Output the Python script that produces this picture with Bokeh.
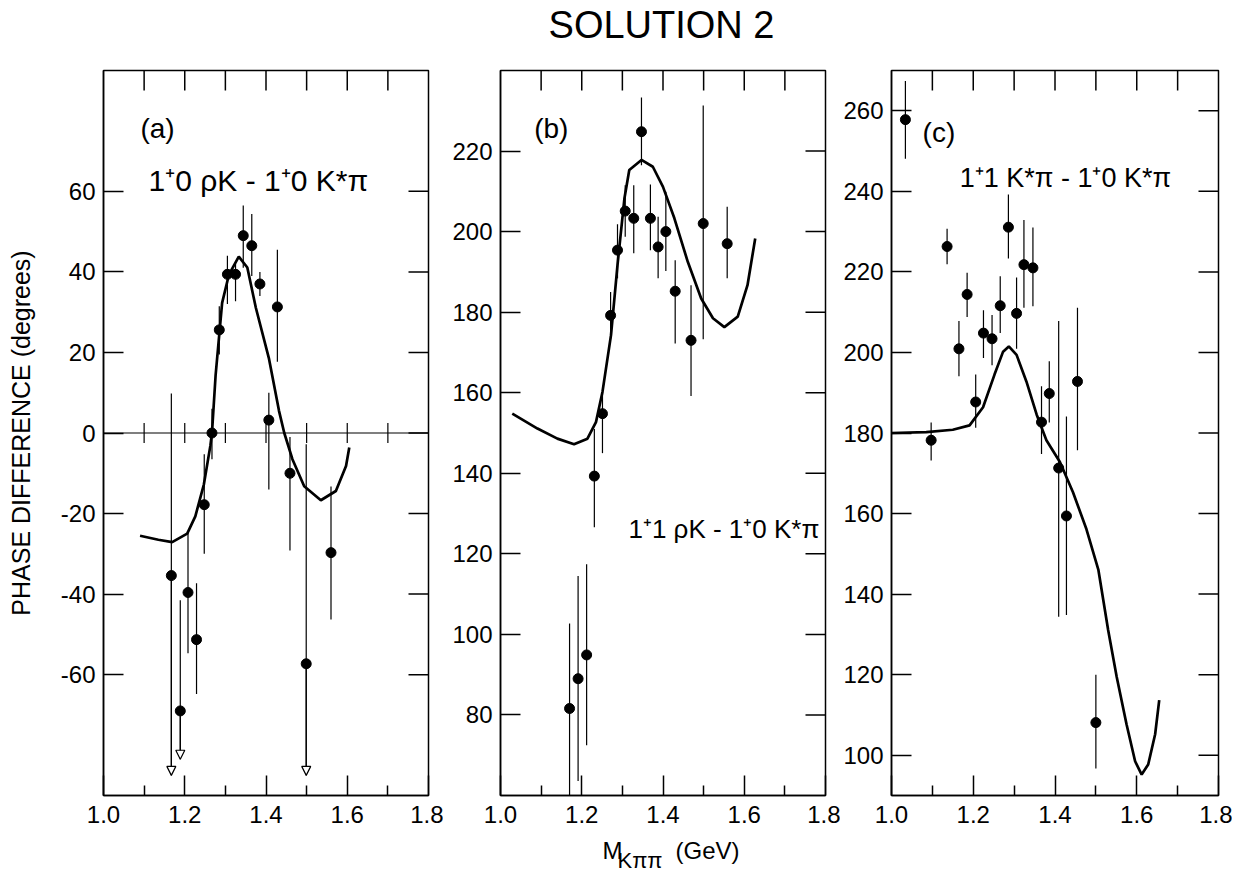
from bokeh.plotting import figure
from bokeh.models import (FixedTicker, PrintfTickFormatter, Range1d,
                          Label, Arrow, NormalHead, ColumnDataSource, Span)
from bokeh.layouts import row, column
from bokeh.core.properties import value
from bokeh.embed import file_html
from bokeh.resources import INLINE

FONT = "Liberation Sans"

# ---------------- data ----------------
x_major = [1.0, 1.2, 1.4, 1.6, 1.8]
x_minor = [1.1, 1.3, 1.5, 1.7]
x_top = [1.1, 1.2, 1.3, 1.4, 1.5, 1.6, 1.7]

# panel (a)
a_yticks = [-60, -40, -20, 0, 20, 40, 60]
a_x = [1.167, 1.189, 1.208, 1.229, 1.248, 1.267, 1.285, 1.305, 1.325, 1.344, 1.365, 1.385, 1.407, 1.428, 1.459, 1.499, 1.560]
a_y = [-35.4, -69.0, -39.6, -51.3, -17.8, 0.0, 25.6, 39.4, 39.4, 49.0, 46.5, 37.0, 3.2, 31.3, -10.0, -57.3, -29.7]
a_hi = [9.8, -41.5, -24.8, -37.3, -5.3, 6.0, 31.5, 44.0, 42.0, 56.5, 54.4, 40.0, 10.0, 45.5, -1.0, -2.8, -13.3]
a_lo = [-85.0, -81.0, -54.7, -64.8, -30.0, -6.5, 19.5, 32.0, 32.7, 41.0, 39.0, 34.0, -14.0, 17.7, -29.2, -85.0, -46.3]
a_open = [1, 1, 0, 0, 0, 0, 0, 0, 0, 0, 0, 0, 0, 0, 0, 1, 0]
a_cx = [1.090, 1.135, 1.169, 1.206, 1.226, 1.247, 1.263, 1.267, 1.276, 1.292, 1.309, 1.333, 1.354, 1.375, 1.407, 1.432, 1.445, 1.465, 1.494, 1.535, 1.572, 1.597, 1.605]
a_cy = [-25.5, -26.5, -27.1, -25.0, -20.7, -12.8, -3.2, 0.0, 14.4, 32.3, 39.4, 43.8, 41.1, 31.1, 18.6, 5.5, 0.0, -6.5, -13.2, -16.7, -14.4, -8.2, -3.6]
zero_ticks = [1.1, 1.2, 1.3, 1.4, 1.5, 1.6, 1.7]

# panel (b)
b_yticks = [80, 100, 120, 140, 160, 180, 200, 220]
b_x = [1.170, 1.191, 1.212, 1.231, 1.251, 1.271, 1.288, 1.307, 1.328, 1.347, 1.369, 1.388, 1.407, 1.430, 1.469, 1.499, 1.558]
b_y = [81.6, 89.0, 94.9, 139.3, 154.8, 179.2, 195.4, 205.1, 203.3, 224.8, 203.3, 196.2, 200.0, 185.2, 173.0, 202.0, 197.0]
b_hi = [102.7, 114.5, 117.4, 151.0, 160.2, 185.0, 201.8, 211.5, 211.5, 233.3, 211.7, 203.7, 209.9, 192.9, 186.7, 231.3, 206.2]
b_lo = [60.0, 63.6, 72.5, 126.6, 145.0, 173.4, 188.4, 198.7, 194.6, 216.5, 195.4, 188.4, 190.2, 172.2, 159.2, 173.3, 188.4]
b_cx = [1.029, 1.091, 1.140, 1.181, 1.214, 1.235, 1.251, 1.272, 1.288, 1.305, 1.317, 1.347, 1.375, 1.400, 1.428, 1.461, 1.494, 1.523, 1.551, 1.584, 1.608, 1.627]
b_cy = [154.8, 151.1, 148.6, 147.2, 148.6, 152.7, 160.2, 174.3, 191.7, 208.2, 215.3, 217.8, 216.1, 211.1, 203.3, 192.5, 183.4, 178.5, 176.3, 178.9, 186.7, 198.3]

# panel (c)
c_yticks = [100, 120, 140, 160, 180, 200, 220, 240, 260]
c_x = [1.034, 1.097, 1.136, 1.165, 1.185, 1.206, 1.225, 1.246, 1.266, 1.286, 1.306, 1.324, 1.346, 1.367, 1.386, 1.409, 1.428, 1.455, 1.500]
c_y = [257.8, 178.2, 226.3, 200.9, 214.4, 187.7, 204.8, 203.4, 211.6, 231.1, 209.7, 221.8, 221.0, 182.7, 189.8, 171.3, 159.4, 192.8, 108.1]
c_hi = [267.4, 182.6, 230.7, 207.8, 219.8, 194.5, 210.5, 209.3, 218.9, 239.2, 218.6, 232.9, 231.0, 191.6, 197.8, 207.8, 184.1, 211.1, 120.0]
c_lo = [248.1, 173.2, 221.9, 194.1, 208.8, 181.3, 198.6, 196.8, 204.8, 223.3, 200.9, 211.1, 211.5, 174.8, 182.6, 134.4, 134.8, 175.7, 96.7]
c_cx = [1.0, 1.085, 1.150, 1.191, 1.224, 1.252, 1.273, 1.287, 1.306, 1.330, 1.355, 1.379, 1.412, 1.444, 1.477, 1.506, 1.530, 1.551, 1.575, 1.596, 1.612, 1.628, 1.645, 1.655]
c_cy = [180.0, 180.2, 180.8, 181.9, 186.4, 194.5, 200.2, 201.5, 199.4, 192.8, 184.6, 178.2, 172.8, 165.3, 156.1, 146.1, 131.1, 119.4, 107.7, 98.5, 95.2, 97.7, 105.2, 113.7]

title_text = "SOLUTION 2"
ylabel_text = "PHASE DIFFERENCE (degrees)"
xlabel_parts = ["M", "K\u03c0\u03c0", "(GeV)"]
a_label = "1\u207a0 \u03c1K - 1\u207a0 K*\u03c0"
b_label = "1\u207a1 \u03c1K - 1\u207a0 K*\u03c0"
c_label = "1\u207a1 K*\u03c0 - 1\u207a0 K*\u03c0"

TOTAL_W = 1232
TICK = 20  # px, inward tick length


def make_fig(yr, yticks, width, height, left, right, top, bottom):
    p = figure(width=width, height=height,
               x_range=Range1d(1.0, 1.8), y_range=Range1d(*yr),
               output_backend="svg", toolbar_location=None,
               min_border_left=left, min_border_right=right,
               min_border_top=top, min_border_bottom=bottom,
               background_fill_color="white", border_fill_color="white")
    p.xgrid.visible = False
    p.ygrid.visible = False
    p.outline_line_color = "black"
    p.outline_line_width = 1.5

    xa = p.xaxis[0]
    xa.ticker = FixedTicker(ticks=x_major, minor_ticks=x_minor)
    xa.formatter = PrintfTickFormatter(format="%.1f")
    ya = p.yaxis[0]
    ya.ticker = FixedTicker(ticks=yticks)
    ya.formatter = PrintfTickFormatter(format="%d")
    for ax in (xa, ya):
        ax.major_tick_in = TICK
        ax.major_tick_out = 0
        ax.minor_tick_in = 10
        ax.minor_tick_out = 0
        ax.axis_line_width = 1.5
        ax.major_tick_line_width = 1.5
        ax.minor_tick_line_width = 1.5
        ax.major_label_text_font = FONT
        ax.major_label_text_font_size = "24px"
        ax.major_label_text_color = "black"
        ax.major_label_standoff = 8
    xa.major_label_standoff = 10
    ya.minor_tick_in = 0

    # inward ticks on the top and right edges of the frame
    fw = width - left - right
    fh = height - top - bottom
    y0, y1 = yr
    ty = y1 - TICK * (y1 - y0) / fh
    p.segment(x0=x_top, y0=[ty] * len(x_top), x1=x_top, y1=[y1] * len(x_top),
              line_color="black", line_width=1.5)
    tx = 1.8 - TICK * 0.8 / fw
    p.segment(x0=[tx] * len(yticks), y0=yticks, x1=[1.8] * len(yticks), y1=yticks,
              line_color="black", line_width=1.5)
    return p


def add_data(p, xs, ys, lo, hi, cx, cy, open_low=None):
    src = ColumnDataSource(dict(x=xs, y=ys, lo=lo, hi=hi))
    p.segment(x0="x", y0="lo", x1="x", y1="hi", source=src, line_color="black", line_width=1.2)
    if open_low is not None:
        idx = [i for i, f in enumerate(open_low) if f]
        asrc = ColumnDataSource(dict(x=[xs[i] for i in idx], y=[ys[i] for i in idx],
                                     lo=[lo[i] for i in idx]))
        p.add_layout(Arrow(end=NormalHead(size=9, fill_color="white", line_color="black", line_width=1.2),
                           x_start="x", y_start="y", x_end="x", y_end="lo", source=asrc,
                           line_color="black", line_width=1.2))
    p.line(cx, cy, line_color="black", line_width=2.7)
    p.scatter(xs, ys, size=10, color="black")


def add_text(p, x, y, text, size):
    p.add_layout(Label(x=x, y=y, text=text, text_font=FONT, text_font_size=size,
                       text_baseline="middle", text_align="left", text_color="black"))


def text_fig(height):
    f = figure(width=TOTAL_W, height=height, x_range=Range1d(0, TOTAL_W), y_range=Range1d(0, height),
               x_axis_type=None, y_axis_type=None, output_backend="svg", toolbar_location=None,
               min_border=0, background_fill_color="white", border_fill_color="white")
    f.xgrid.visible = False
    f.ygrid.visible = False
    f.outline_line_color = None
    return f


# ---- title strip
ft = text_fig(63)
ft.text(x=[661], y=[39], text=[title_text], text_font=value(FONT), text_font_size="38px",
        text_align="center", text_baseline="alphabetic", text_color="black")

# ---- panel (a)
pa = make_fig((-90, 90), a_yticks, 443, 772, 103, 15, 7, 40)
pa.yaxis[0].axis_label = ylabel_text
pa.yaxis[0].axis_label_text_font = FONT
pa.yaxis[0].axis_label_text_font_size = "25px"
pa.yaxis[0].axis_label_text_font_style = "normal"
pa.yaxis[0].axis_label_text_color = "black"
pa.yaxis[0].axis_label_standoff = 23
pa.add_layout(Span(location=0, dimension="width", line_color="black", line_width=1.2))
pa.segment(x0=zero_ticks, y0=[-2.5] * len(zero_ticks), x1=zero_ticks, y1=[2.5] * len(zero_ticks),
           line_color="black", line_width=1.2)
add_data(pa, a_x, a_y, a_lo, a_hi, a_cx, a_cy, a_open)
add_text(pa, 1.091, 75.7, "(a)", "28px")
add_text(pa, 1.111, 62.8, a_label, "30px")

# ---- panel (b)
pb = make_fig((60, 240), b_yticks, 397, 772, 57, 15, 7, 40)
add_data(pb, b_x, b_y, b_lo, b_hi, b_cx, b_cy)
add_text(pb, 1.083, 225.7, "(b)", "28px")
add_text(pb, 1.315, 126.2, b_label, "26px")

# ---- panel (c)
pc = make_fig((90, 270), c_yticks, 392, 772, 51, 14, 7, 40)
add_data(pc, c_x, c_y, c_lo, c_hi, c_cx, c_cy)
add_text(pc, 1.076, 254.5, "(c)", "28px")
add_text(pc, 1.167, 243.4, c_label, "27px")

# ---- x-axis label strip (M with subscript K pi pi)
fx = text_fig(42)
fx.text(x=[602], y=[27], text=[xlabel_parts[0]], text_font=value(FONT), text_font_size="24px",
        text_align="left", text_baseline="alphabetic", text_color="black")
fx.text(x=[617], y=[17], text=[xlabel_parts[1]], text_font=value(FONT), text_font_size="22px",
        text_align="left", text_baseline="alphabetic", text_color="black")
fx.text(x=[675], y=[27], text=[xlabel_parts[2]], text_font=value(FONT), text_font_size="24px",
        text_align="left", text_baseline="alphabetic", text_color="black")

layout = column(ft, row(pa, pb, pc), fx)
open("out.html", "w").write(file_html(layout, INLINE))
